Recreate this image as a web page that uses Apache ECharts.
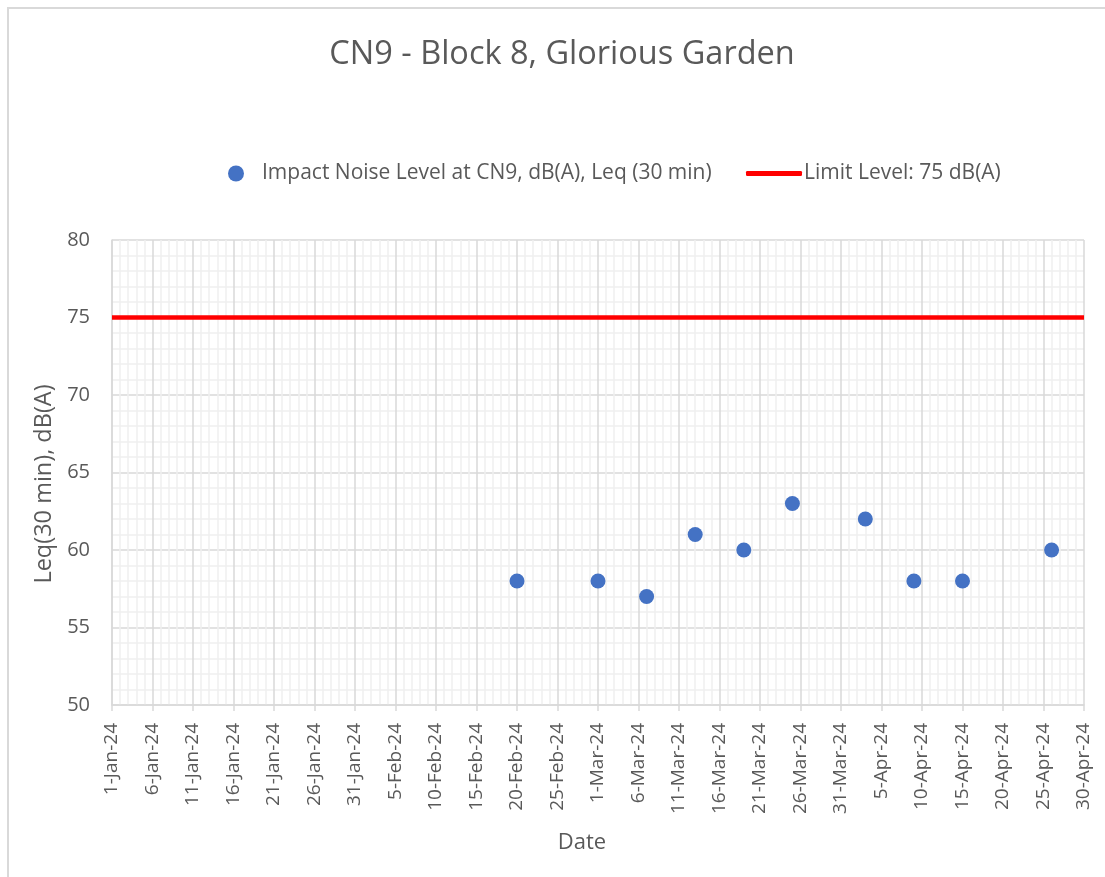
<!DOCTYPE html>
<html>
<head>
<meta charset="utf-8">
<script src="https://cdn.jsdelivr.net/npm/echarts@6/dist/echarts.min.js"></script>
<style>
  html, body { margin: 0; padding: 0; background: #ffffff; }
  #chart { width: 1105px; height: 877px; }
</style>
</head>
<body>
<div id="chart"></div>
<script>
// Measurement dates and impact noise levels at CN9
const measureDates = ['20-Feb-24', '1-Mar-24', '7-Mar-24', '13-Mar-24', '19-Mar-24',
                      '25-Mar-24', '3-Apr-24', '9-Apr-24', '15-Apr-24', '26-Apr-24'];
const noiseLevels = [58, 58, 57, 61, 60, 63, 62, 58, 58, 60];

// Limit level and the date span it covers
const limitLevel = 75;
const rangeDates = ['1-Jan-24', '30-Apr-24'];

// Value axis range
const yMin = 50, yMax = 80, yStep = 5;
const xStepDays = 5;

const MONTHS = ['Jan', 'Feb', 'Mar', 'Apr', 'May', 'Jun', 'Jul', 'Aug', 'Sep', 'Oct', 'Nov', 'Dec'];
const DAY_MS = 86400000;
const ORIGIN = Date.UTC(2024, 0, 1);

// "20-Feb-24" -> days since 1-Jan-24
function toDay(s) {
  const [d, m, y] = s.split('-');
  return Math.round((Date.UTC(2000 + Number(y), MONTHS.indexOf(m), Number(d)) - ORIGIN) / DAY_MS);
}
function dayLabel(v) {
  const dt = new Date(ORIGIN + v * DAY_MS);
  return dt.getUTCDate() + '-' + MONTHS[dt.getUTCMonth()] + '-' + String(dt.getUTCFullYear()).slice(2);
}

const xStart = toDay(rangeDates[0]);
const xEnd = toDay(rangeDates[1]);
const TEXT = '#595959';
const FONT = 'Open Sans';
const SCATTER_NAME = 'Impact Noise Level at CN9, dB(A), Leq (30 min)';
const LIMIT_NAME = 'Limit Level: 75 dB(A)';

const chart = echarts.init(document.getElementById('chart'));
chart.setOption({
  backgroundColor: '#ffffff',
  animation: false,
  title: {
    text: 'CN9 - Block 8, Glorious Garden',
    left: 557,
    top: 33,
    textAlign: 'center',
    textStyle: { color: TEXT, fontFamily: FONT, fontSize: 32.5, fontWeight: 'normal' }
  },
  graphic: [{
    type: 'rect',
    silent: true,
    shape: { x: 8, y: 8, width: 1200, height: 1000 },
    style: { fill: 'none', stroke: '#d9d9d9', lineWidth: 2 }
  }],
  legend: [{
    data: [{ name: SCATTER_NAME, icon: 'circle' }],
    left: 223,
    top: 158,
    itemWidth: 16,
    itemHeight: 16,
    textStyle: { color: TEXT, fontFamily: FONT, fontSize: 21, padding: [0, 0, 0, 13] }
  }, {
    data: [{ name: LIMIT_NAME, icon: 'roundRect' }],
    left: 741,
    top: 158,
    itemWidth: 56,
    itemHeight: 5,
    itemStyle: { color: '#ff0000' },
    textStyle: { color: TEXT, fontFamily: FONT, fontSize: 21, padding: [0, 0, 0, -3] }
  }],
  grid: { left: 112, right: 21, top: 240, bottom: 172, containLabel: false },
  xAxis: {
    type: 'value',
    min: xStart,
    max: xEnd,
    interval: xStepDays,
    name: 'Date',
    nameLocation: 'middle',
    nameGap: 127,
    nameTextStyle: { color: TEXT, fontFamily: FONT, fontSize: 22, padding: [0, 32, 0, 0] },
    axisLine: { show: true, lineStyle: { color: '#d9d9d9', width: 1.5 } },
    axisTick: { show: true, length: 6, lineStyle: { color: '#d9d9d9', width: 1.5 } },
    axisLabel: {
      rotate: 90,
      margin: 18,
      color: TEXT,
      fontFamily: FONT,
      fontSize: 19,
      formatter: dayLabel
    },
    splitLine: { show: true, lineStyle: { color: '#d9d9d9', width: 1.5 } },
    minorTick: { show: false, splitNumber: xStepDays },
    minorSplitLine: { show: true, lineStyle: { color: '#f0f0f0', width: 1.5 } }
  },
  yAxis: {
    type: 'value',
    min: yMin,
    max: yMax,
    interval: yStep,
    name: 'Leq(30 min), dB(A)',
    nameLocation: 'middle',
    nameGap: 52,
    nameTextStyle: { color: TEXT, fontFamily: FONT, fontSize: 23.5, padding: [0, 23, 0, 0] },
    axisLine: { show: true, lineStyle: { color: '#d9d9d9', width: 1.5 } },
    axisTick: { show: false },
    axisLabel: { margin: 22, color: TEXT, fontFamily: FONT, fontSize: 20 },
    splitLine: { show: true, lineStyle: { color: '#d9d9d9', width: 1.5 } },
    minorTick: { show: false, splitNumber: yStep },
    minorSplitLine: { show: true, lineStyle: { color: '#f0f0f0', width: 1.5 } }
  },
  series: [{
    name: SCATTER_NAME,
    type: 'scatter',
    symbol: 'circle',
    symbolSize: 15,
    itemStyle: { color: '#4472c4', opacity: 1 },
    data: measureDates.map((d, i) => [toDay(d), noiseLevels[i]]),
    z: 3
  }, {
    name: LIMIT_NAME,
    type: 'line',
    symbol: 'none',
    lineStyle: { color: '#ff0000', width: 4.5 },
    itemStyle: { color: '#ff0000' },
    data: rangeDates.map(d => [toDay(d), limitLevel]),
    z: 2
  }]
});
</script>
</body>
</html>
